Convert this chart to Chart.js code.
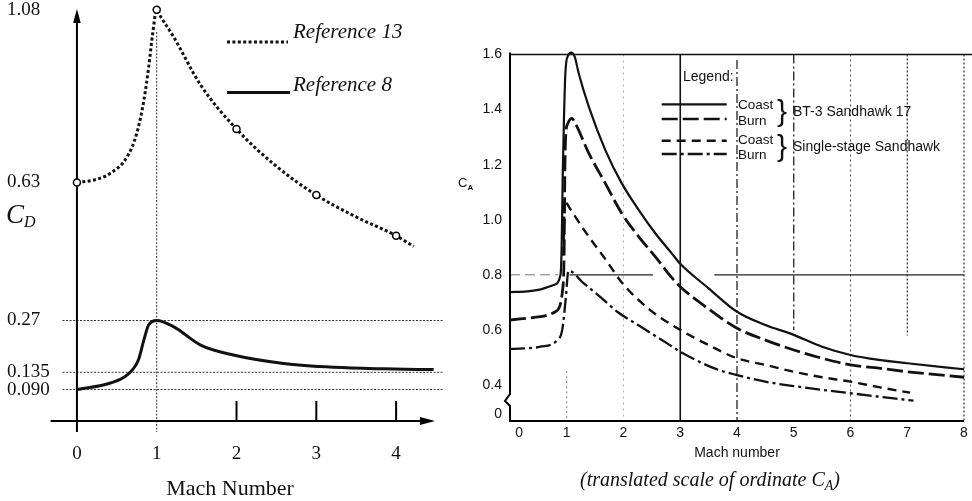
<!DOCTYPE html>
<html><head><meta charset="utf-8">
<script src="https://cdn.jsdelivr.net/npm/chart.js@4.4.1/dist/chart.umd.min.js"></script>
<style>
html,body{margin:0;padding:0;background:#fff;}
#wrap{position:relative;width:972px;height:501px;overflow:hidden;background:#fff;}
canvas{position:absolute;top:0;}
.t{position:absolute;white-space:nowrap;color:#111;}
</style></head><body>
<div id="wrap">
<canvas id="cL" width="455" height="501" style="left:0;width:455px;height:501px"></canvas>
<canvas id="cR" width="517" height="501" style="left:455px;width:517px;height:501px"></canvas>
<div class="t" style="left:6px;top:201px;font:italic 27px/27px 'Liberation Serif'">C<span style="font-size:16px;position:relative;top:4px">D</span></div>
<div class="t" style="left:130px;width:200px;text-align:center;top:477px;font:22px/22px 'Liberation Serif'">Mach Number</div>
<div class="t" style="left:458px;top:176px;font:13px/13px 'Liberation Sans'">C<span style="font-size:8px;font-weight:bold;position:relative;top:3px">A</span></div>
<div class="t" style="left:560px;width:300px;text-align:center;top:469px;font:italic 20px/20px 'Liberation Serif'">(translated scale of ordinate C<span style="font-size:14px;position:relative;top:4px">A</span>)</div>
</div>
<script>
// ---------- Left chart: C_D vs Mach number ----------
const ref13Mach = [0, 0.21, 0.42, 0.63, 0.75, 0.84, 0.9, 0.95, 1.0, 1.05, 1.21, 1.55, 2.0, 2.5, 3.0, 3.5, 4.0, 4.22];
const ref13Cd   = [0.63, 0.636, 0.654, 0.697, 0.758, 0.845, 0.932, 1.019, 1.08, 1.062, 1.01, 0.884, 0.769, 0.672, 0.597, 0.54, 0.491, 0.463];
const ref8Mach  = [0, 0.42, 0.63, 0.77, 0.84, 0.9, 1.0, 1.21, 1.55, 1.96, 2.59, 3.22, 3.84, 4.47];
const ref8Cd    = [0.09, 0.107, 0.128, 0.167, 0.22, 0.259, 0.27, 0.254, 0.206, 0.18, 0.158, 0.148, 0.144, 0.142];
const cdTicks      = [0.09, 0.135, 0.27, 0.63, 1.08];
const cdTickLabels = ['0.090', '0.135', '0.27', '0.63', '1.08'];
const cdGuides     = [0.27, 0.135, 0.09];
const machTicksL   = [0, 1, 2, 3, 4];
const leftLegend   = ['Reference 13', 'Reference 8'];

// ---------- Right chart: C_A vs Mach number ----------
const bt3CoastMach = [0, 0.3, 0.54, 0.77, 0.89, 0.91, 0.93, 0.95, 0.975, 1.02, 1.08, 1.14, 1.21, 1.39, 1.68, 1.97, 2.27, 2.56, 2.85, 3.0, 3.5, 4.0, 4.5, 5.0, 5.5, 6.0, 6.5, 7.0, 8.0];
const bt3CoastCa   = [0.737, 0.74, 0.747, 0.763, 0.80, 0.90, 1.17, 1.36, 1.53, 1.595, 1.607, 1.592, 1.532, 1.41, 1.253, 1.132, 1.035, 0.951, 0.878, 0.84, 0.751, 0.666, 0.618, 0.582, 0.539, 0.509, 0.491, 0.479, 0.457];
const bt3BurnMach  = [0, 0.54, 0.8, 0.93, 0.955, 0.965, 0.98, 1.02, 1.09, 1.15, 1.39, 1.68, 1.97, 2.27, 2.56, 2.85, 3.0, 3.5, 4.0, 4.5, 5.0, 5.5, 6.0, 6.5, 7.0, 8.0];
const bt3BurnCa    = [0.636, 0.648, 0.666, 0.75, 0.9, 1.15, 1.30, 1.35, 1.368, 1.35, 1.241, 1.132, 1.023, 0.938, 0.866, 0.79, 0.757, 0.676, 0.606, 0.563, 0.527, 0.497, 0.473, 0.461, 0.448, 0.428];
const ssCoastMach  = [0.94, 0.965, 1.0, 1.15, 1.39, 1.68, 1.97, 2.47, 3.0, 3.5, 4.0, 4.5, 5.0, 5.5, 6.0, 6.5, 7.05];
const ssCoastCa    = [0.87, 1.074, 1.06, 1.011, 0.938, 0.857, 0.772, 0.672, 0.6, 0.545, 0.497, 0.473, 0.448, 0.428, 0.412, 0.392, 0.372];
const ssBurnMach   = [0, 0.54, 0.83, 0.92, 0.98, 1.03, 1.3, 1.59, 1.89, 2.3, 2.77, 3.0, 3.59, 4.0, 4.5, 5.0, 6.0, 7.11];
const ssBurnCa     = [0.531, 0.539, 0.563, 0.6, 0.709, 0.815, 0.769, 0.72, 0.666, 0.612, 0.551, 0.521, 0.461, 0.436, 0.412, 0.396, 0.37, 0.343];
const machTicksR      = [0.16, 1, 2, 3, 4, 5, 6, 7, 8];
const machTickLabelsR = ['0', '1', '2', '3', '4', '5', '6', '7', '8'];
const caTicks      = [0.295, 0.4, 0.6, 0.8, 1.0, 1.2, 1.4, 1.6];
const caTickLabels = ['0', '0.4', '0.6', '0.8', '1.0', '1.2', '1.4', '1.6'];
const vehicles = ['BT-3 Sandhawk 17', 'Single-stage Sandhawk'];
const phases   = ['Coast', 'Burn'];

const pts = (xs, ys) => xs.map((x, i) => ({x, y: ys[i]}));
function seg(ctx, x1, y1, x2, y2) { ctx.beginPath(); ctx.moveTo(x1, y1); ctx.lineTo(x2, y2); ctx.stroke(); }
function zeroPad(s) { s.paddingLeft = 0; s.paddingRight = 0; s.paddingTop = 0; s.paddingBottom = 0; }

const INK = '#111';

// ---------- left decorations ----------
const leftDecor = {
  id: 'leftDecor',
  beforeDatasetsDraw(chart) {
    const {ctx, scales: {x, y}} = chart;
    const X = v => x.getPixelForValue(v), Y = v => y.getPixelForValue(v);
    const yb = y.bottom, x0 = X(0);
    ctx.save();
    ctx.strokeStyle = '#333'; ctx.lineWidth = 1; ctx.setLineDash([2, 1.5]);
    cdGuides.forEach(v => seg(ctx, X(-0.18), Y(v), X(4.59), Y(v)));
    seg(ctx, X(1), Y(1.022), X(1), yb + 11);
    ctx.setLineDash([]);
    ctx.strokeStyle = '#000'; ctx.fillStyle = '#000'; ctx.lineWidth = 2;
    seg(ctx, x0, yb + 11, x0, y.top + 12);
    ctx.beginPath(); ctx.moveTo(x0, y.top + 1); ctx.lineTo(x0 - 3.8, y.top + 15); ctx.lineTo(x0 + 3.8, y.top + 15); ctx.closePath(); ctx.fill();
    seg(ctx, X(-0.33), yb, x.right - 12, yb);
    ctx.beginPath(); ctx.moveTo(x.right - 1, yb); ctx.lineTo(x.right - 16, yb - 4); ctx.lineTo(x.right - 16, yb + 4); ctx.closePath(); ctx.fill();
    machTicksL.filter(m => m > 1).forEach(m => seg(ctx, X(m), yb, X(m), yb - 20));
    ctx.restore();
  },
  afterDatasetsDraw(chart) {
    const {ctx} = chart;
    const ds = chart.data.datasets;
    ctx.save();
    ctx.strokeStyle = INK;
    ctx.lineWidth = ds[0].borderWidth; ctx.setLineDash(ds[0].borderDash);
    seg(ctx, 227, 42, 288, 42);
    ctx.setLineDash([]); ctx.lineWidth = ds[1].borderWidth;
    seg(ctx, 227, 92.5, 290, 92.5);
    ctx.fillStyle = INK; ctx.font = 'italic 21px "Liberation Serif"'; ctx.textBaseline = 'alphabetic';
    ctx.fillText(leftLegend[0], 293, 38);
    ctx.fillText(leftLegend[1], 293, 90.5);
    ctx.restore();
  }
};

new Chart(document.getElementById('cL'), {
  type: 'line',
  data: {
    datasets: [
      { label: leftLegend[0], data: pts(ref13Mach, ref13Cd), borderColor: INK, borderWidth: 3, borderDash: [3, 2.4],
        cubicInterpolationMode: 'monotone', tension: 0.4, fill: false, clip: false,
        pointRadius: c => (c.raw && Number.isInteger(c.raw.x)) ? 3.5 : 0,
        pointBackgroundColor: '#fff', pointBorderColor: '#000', pointBorderWidth: 1.5 },
      { label: leftLegend[1], data: pts(ref8Mach, ref8Cd), borderColor: INK, borderWidth: 3,
        cubicInterpolationMode: 'monotone', tension: 0.4, fill: false, clip: false, pointRadius: 0 }
    ]
  },
  options: {
    responsive: false, animation: false, events: [],
    layout: { padding: { left: 7, right: 19, top: 7.9, bottom: 0 } },
    plugins: { legend: { display: false }, tooltip: { enabled: false } },
    scales: {
      x: {
        type: 'linear', min: -0.35, max: 4.5,
        grid: { display: false, drawTicks: false }, border: { display: false },
        afterBuildTicks: s => { s.ticks = machTicksL.map(v => ({value: v})); },
        afterFit: s => { s.height = 80; zeroPad(s); },
        ticks: { autoSkip: false, maxRotation: 0, padding: 21.6, color: INK,
                 font: { family: 'Liberation Serif', size: 19 }, callback: v => String(v) }
      },
      y: {
        type: 'linear', min: 0.008, max: 1.085,
        grid: { display: false, drawTicks: false }, border: { display: false },
        afterBuildTicks: s => { s.ticks = cdTicks.map(v => ({value: v})); },
        afterFit: s => { s.width = 42; zeroPad(s); },
        ticks: { autoSkip: false, crossAlign: 'far', padding: 0, color: INK,
                 font: { family: 'Liberation Serif', size: 19 }, callback: (v, i) => cdTickLabels[i] }
      }
    }
  },
  plugins: [leftDecor]
});

// ---------- right decorations ----------
const gridStyles = {
  1: { dash: [2, 3], w: 1, c: '#777', from: 0.45, to: null },
  2: { dash: [2, 4], w: 1, c: '#aaa', from: 1.6, to: null },
  3: { dash: [], w: 1.6, c: '#111', from: 1.6, to: null },
  4: { dash: [9, 3, 2, 3], w: 1.3, c: '#222', from: 1.58, to: null },
  5: { dash: [9, 3, 2, 3], w: 1.3, c: '#222', from: 1.6, to: 0.6 },
  6: { dash: [2, 3], w: 1, c: '#555', from: 1.6, to: null },
  7: { dash: [2, 2], w: 1.2, c: '#333', from: 1.6, to: 0.58 },
  8: { dash: [2, 2], w: 1.2, c: '#333', from: 1.6, to: null }
};
const rightDecor = {
  id: 'rightDecor',
  beforeDatasetsDraw(chart) {
    const {ctx, scales: {x, y}} = chart;
    const X = v => x.getPixelForValue(v), Y = v => y.getPixelForValue(v);
    const bot = y.bottom, x0 = X(0);
    ctx.save();
    machTicksR.slice(1).forEach(m => {
      const g = gridStyles[m]; if (!g) return;
      ctx.setLineDash(g.dash); ctx.lineWidth = g.w; ctx.strokeStyle = g.c;
      seg(ctx, X(m), Y(g.from), X(m), g.to == null ? bot : Y(g.to));
    });
    // horizontal 0.8 line
    ctx.setLineDash([10, 5]); ctx.lineWidth = 1; ctx.strokeStyle = '#777';
    seg(ctx, x0, Y(0.8), X(0.85), Y(0.8));
    ctx.setLineDash([]); ctx.lineWidth = 1.2; ctx.strokeStyle = '#222';
    seg(ctx, X(1.05), Y(0.8), X(2.52), Y(0.8));
    seg(ctx, X(3.6), Y(0.8), X(8), Y(0.8));
    // top line at 1.6
    ctx.lineWidth = 1.6; ctx.strokeStyle = '#111';
    seg(ctx, x0, Y(1.6), chart.width, Y(1.6));
    // axes
    ctx.lineWidth = 2; ctx.strokeStyle = '#000';
    ctx.beginPath();
    ctx.moveTo(x0, Y(1.6) - 2); ctx.lineTo(x0, bot - 27); ctx.lineTo(x0 - 5, bot - 20); ctx.lineTo(x0, bot - 15); ctx.lineTo(x0, bot + 1);
    ctx.stroke();
    ctx.lineWidth = 2.2;
    seg(ctx, x0 - 1, bot, X(8), bot);
    ctx.restore();
  },
  afterDatasetsDraw(chart) {
    const {ctx} = chart;
    const ds = chart.data.datasets;
    const ly = [104.3, 119, 140.7, 154];
    ctx.save();
    ctx.strokeStyle = INK;
    ds.forEach((d, i) => {
      ctx.setLineDash(d.borderDash || []); ctx.lineWidth = Math.min(d.borderWidth, 2.6);
      seg(ctx, 206.7, ly[i], 271.7, ly[i]);
    });
    ctx.setLineDash([]);
    ctx.fillStyle = INK; ctx.textBaseline = 'middle';
    ctx.font = '14px "Liberation Sans"';
    ctx.fillText('Legend:', 228, 77);
    ctx.font = '13.5px "Liberation Sans"';
    ctx.fillText(phases[0], 283, 105);
    ctx.fillText(phases[1], 283, 121);
    ctx.fillText(phases[0], 283, 140);
    ctx.fillText(phases[1], 283, 155);
    ctx.font = '30px "Liberation Sans"';
    ctx.fillText('}', 322, 113);
    ctx.fillText('}', 322, 148);
    ctx.font = '14px "Liberation Sans"';
    ctx.fillText(vehicles[0], 338, 112);
    ctx.fillText(vehicles[1], 338, 147);
    ctx.restore();
  }
};

const common = { fill: false, clip: false, pointRadius: 0, borderColor: INK, cubicInterpolationMode: 'monotone', tension: 0.4 };
new Chart(document.getElementById('cR'), {
  type: 'line',
  data: {
    datasets: [
      Object.assign({ label: vehicles[0] + ' ' + phases[0], data: pts(bt3CoastMach, bt3CoastCa), borderWidth: 2.2, borderDash: [] }, common),
      Object.assign({ label: vehicles[0] + ' ' + phases[1], data: pts(bt3BurnMach, bt3BurnCa), borderWidth: 2.8, borderDash: [16, 5] }, common),
      Object.assign({ label: vehicles[1] + ' ' + phases[0], data: pts(ssCoastMach, ssCoastCa), borderWidth: 2.4, borderDash: [9, 6] }, common),
      Object.assign({ label: vehicles[1] + ' ' + phases[1], data: pts(ssBurnMach, ssBurnCa), borderWidth: 2.3, borderDash: [15, 4, 3, 4] }, common)
    ]
  },
  options: {
    responsive: false, animation: false, events: [],
    layout: { padding: { left: 0, right: 8, top: 54.5, bottom: 0 } },
    plugins: { legend: { display: false }, tooltip: { enabled: false } },
    scales: {
      x: {
        type: 'linear', min: 0, max: 8,
        grid: { display: false, drawTicks: false }, border: { display: false },
        afterBuildTicks: s => { s.ticks = machTicksR.map(v => ({value: v})); },
        afterFit: s => { s.height = 80; zeroPad(s); },
        ticks: { autoSkip: false, maxRotation: 0, padding: 3.3, color: INK,
                 font: { family: 'Liberation Sans', size: 14 }, callback: (v, i) => machTickLabelsR[i] },
        title: { display: true, text: 'Mach number', color: INK, padding: { top: 0, bottom: 39.6 },
                 font: { family: 'Liberation Sans', size: 14 } }
      },
      y: {
        type: 'linear', min: 0.2692, max: 1.6,
        grid: { display: false, drawTicks: false }, border: { display: false },
        afterBuildTicks: s => { s.ticks = caTicks.map(v => ({value: v})); },
        afterFit: s => { s.width = 55; zeroPad(s); },
        ticks: { autoSkip: false, padding: 8, color: INK,
                 font: { family: 'Liberation Sans', size: 14 }, callback: (v, i) => caTickLabels[i] }
      }
    }
  },
  plugins: [rightDecor]
});
</script>
</body></html>
